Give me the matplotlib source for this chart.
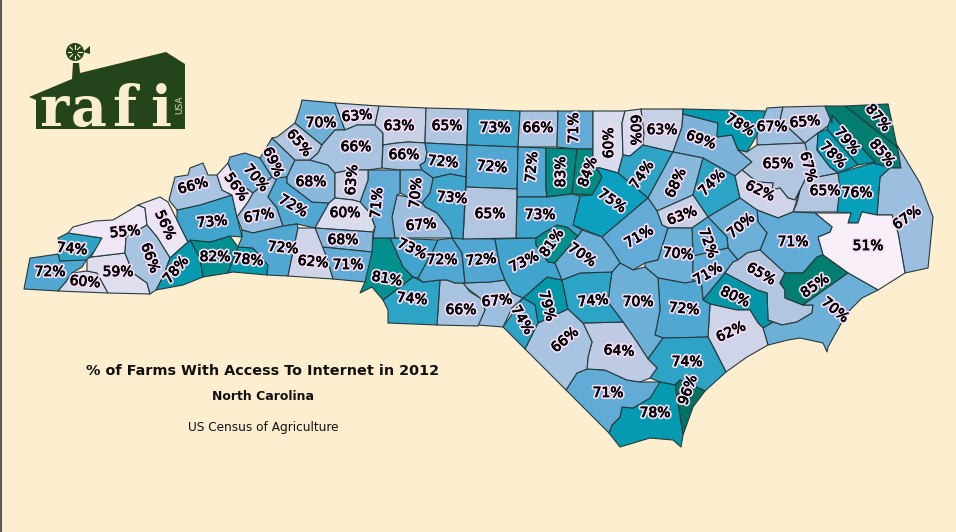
import matplotlib
matplotlib.use("Agg")
import matplotlib.pyplot as plt
import matplotlib.patheffects as pe
from matplotlib.patches import Polygon, Circle

# county outlines, in picture pixels
outlines = {
    "Cherokee": [(24,289),(30,258),(38,257),(58,254),(60,261),(87,259),(82,267),(72,273),(65,283),(58,291)],
    "Graham": [(58,238),(68,233),(102,238),(98,247),(91,255),(87,260),(60,261),(58,254),(60,245)],
    "Clay": [(58,291),(65,283),(72,273),(87,271),(97,273),(108,293)],
    "Macon": [(87,271),(87,259),(91,257),(125,253),(133,273),(147,283),(150,294),(108,293),(97,273)],
    "Swain": [(68,233),(73,227),(95,221),(113,220),(130,210),(138,205),(145,208),(147,225),(126,237),(125,253),(91,257),(102,238)],
    "Haywood": [(138,205),(160,197),(168,202),(177,220),(188,242),(170,258),(157,237),(147,225),(145,208)],
    "Jackson": [(126,237),(147,225),(157,237),(170,258),(163,277),(156,290),(150,294),(147,283),(133,273),(125,253)],
    "Transylvania": [(170,258),(188,242),(190,240),(200,258),(203,277),(183,285),(156,290),(163,277)],
    "Henderson": [(190,240),(210,242),(230,236),(238,247),(228,273),(203,277),(200,258)],
    "Polk": [(238,247),(253,248),(268,265),(267,275),(233,272),(228,273)],
    "Buncombe": [(177,210),(200,205),(232,195),(237,217),(242,237),(230,236),(210,242),(190,240),(188,242),(177,220)],
    "Madison": [(169,200),(175,177),(188,175),(190,168),(203,163),(208,175),(217,175),(222,190),(232,195),(200,205),(177,210)],
    "Yancey": [(217,175),(228,163),(235,180),(253,193),(248,202),(237,217),(232,195),(222,190)],
    "Mitchell": [(228,163),(230,157),(245,153),(260,158),(272,177),(253,193),(235,180)],
    "Avery": [(260,158),(272,138),(295,160),(287,177),(277,180),(272,177)],
    "McDowell": [(237,217),(248,202),(253,193),(272,177),(277,180),(268,197),(277,208),(283,226),(253,233),(242,230)],
    "Burke": [(268,197),(277,178),(287,177),(287,183),(312,202),(329,203),(315,228),(297,224),(283,226),(277,208)],
    "Rutherford": [(242,237),(242,230),(253,233),(283,226),(297,224),(298,228),(288,276),(267,275),(268,265),(253,248),(238,247)],
    "Caldwell": [(287,177),(295,160),(310,160),(328,165),(335,173),(335,198),(329,203),(312,202),(287,183)],
    "Watauga": [(272,138),(277,137),(295,123),(322,145),(318,153),(310,160),(295,160)],
    "Ashe": [(302,100),(335,103),(345,130),(335,130),(322,145),(295,123),(300,108)],
    "Alleghany": [(335,103),(379,106),(375,125),(357,125),(345,130)],
    "Wilkes": [(322,145),(335,130),(345,130),(357,125),(375,125),(383,133),(382,168),(368,170),(350,170),(335,173),(328,165),(310,160),(318,153)],
    "Surry": [(379,106),(426,108),(425,143),(408,142),(397,143),(383,145),(383,133),(375,125)],
    "Stokes": [(426,108),(468,109),(467,145),(425,143)],
    "Rockingham": [(468,109),(520,111),(518,147),(467,145)],
    "Caswell": [(520,111),(558,111),(557,147),(518,147)],
    "Person": [(558,111),(593,111),(593,149),(577,149),(557,147)],
    "Yadkin": [(383,145),(397,143),(408,142),(425,143),(427,153),(425,162),(420,165),(422,170),(400,170),(382,168)],
    "Forsyth": [(425,143),(467,145),(466,177),(450,174),(433,178),(422,170),(420,165),(425,162),(427,153)],
    "Guilford": [(467,145),(518,147),(517,189),(466,187)],
    "Alamance": [(518,147),(546,148),(546,188),(547,197),(517,197)],
    "Orange": [(546,148),(577,149),(572,194),(547,197),(546,188)],
    "Durham": [(577,149),(593,149),(593,168),(598,170),(602,177),(598,185),(592,195),(572,194)],
    "Granville": [(593,111),(625,111),(622,123),(623,155),(618,173),(600,168),(593,168)],
    "Vance": [(625,111),(641,109),(644,133),(643,145),(630,156),(623,155),(622,123)],
    "Warren": [(641,109),(683,109),(682,127),(673,152),(643,145),(644,133)],
    "Franklin": [(643,145),(673,152),(648,198),(618,173),(623,155),(630,156)],
    "Wake": [(593,168),(600,168),(618,173),(648,198),(602,237),(573,225),(580,196),(592,195),(598,185),(602,177),(598,170)],
    "Halifax": [(683,114),(718,123),(717,137),(732,135),(738,150),(752,162),(735,176),(703,158),(673,152),(682,127)],
    "Northampton": [(683,109),(767,111),(757,135),(747,152),(738,150),(732,135),(717,137),(718,123),(683,114)],
    "Hertford": [(767,108),(783,107),(780,120),(805,143),(757,145),(757,135)],
    "Gates": [(783,107),(825,106),(832,123),(818,133),(805,143),(780,120)],
    "Nash": [(673,152),(703,158),(693,195),(657,211),(648,198)],
    "Edgecombe": [(703,158),(735,176),(740,198),(708,217),(693,195)],
    "Bertie": [(747,152),(757,145),(805,143),(813,175),(805,180),(800,190),(795,200),(788,198),(780,188),(772,190),(773,183),(757,182),(742,170),(752,162),(738,150)],
    "Chowan": [(805,143),(818,133),(817,150),(830,167),(838,173),(818,177),(805,180),(813,175)],
    "Pasquotank": [(818,133),(827,129),(858,165),(838,173),(830,167),(817,150)],
    "Camden": [(827,129),(832,115),(862,148),(875,162),(858,165)],
    "Currituck": [(845,106),(888,104),(893,127),(897,147)],
    "Perquimans": [(825,106),(845,106),(897,147),(901,168),(890,168),(873,163),(875,162),(862,148),(832,115),(832,123)],
    "Dare": [(897,145),(920,183),(933,217),(928,268),(905,273),(898,233),(892,215),(877,215),(880,177),(890,168),(901,168)],
    "Tyrrell": [(838,173),(873,163),(890,168),(880,177),(877,215),(862,212),(858,223),(848,223),(851,213),(837,212)],
    "Washington": [(818,177),(838,173),(840,188),(837,212),(793,212),(797,203),(800,190),(805,180)],
    "Martin": [(742,170),(757,182),(773,183),(772,190),(780,188),(788,198),(795,200),(800,190),(793,212),(778,218),(757,210),(740,198),(735,176)],
    "Hyde": [(815,213),(851,213),(848,223),(858,223),(862,212),(877,215),(892,215),(898,233),(905,273),(878,290),(848,273),(823,255),(818,237),(830,232),(832,227)],
    "Beaufort": [(757,210),(778,218),(793,212),(815,213),(832,227),(830,232),(818,237),(823,255),(817,257),(803,273),(785,273),(760,250),(767,233),(758,222)],
    "Pitt": [(708,217),(740,198),(757,210),(758,222),(767,233),(760,250),(747,253),(738,260),(728,248),(727,237)],
    "Wilson": [(657,211),(693,195),(708,217),(692,228),(668,228),(662,225)],
    "Greene": [(692,228),(708,217),(727,237),(728,248),(693,256)],
    "Johnston": [(648,198),(657,211),(662,225),(668,228),(658,260),(645,263),(633,270),(620,263),(612,250),(602,237)],
    "Wayne": [(668,228),(692,228),(693,256),(693,282),(685,283),(658,278),(645,267),(645,263),(658,260)],
    "Lenoir": [(693,256),(728,248),(738,260),(733,262),(725,273),(703,300),(701,280),(693,282)],
    "Craven": [(738,260),(747,253),(760,250),(785,273),(780,283),(785,290),(785,298),(803,305),(813,305),(812,313),(797,322),(782,325),(768,320),(767,293),(757,290),(725,273),(733,262)],
    "Pamlico": [(785,273),(803,273),(817,257),(823,255),(848,273),(803,305),(785,298),(785,290),(780,283)],
    "Carteret": [(848,273),(878,290),(862,298),(847,313),(828,347),(827,352),(823,343),(800,338),(788,340),(768,345),(763,328),(773,322),(782,325),(797,322),(812,313),(813,305),(803,305)],
    "Jones": [(725,273),(757,290),(767,293),(768,320),(773,322),(763,328),(758,323),(750,310),(737,310),(710,304),(703,300)],
    "Onslow": [(710,304),(737,310),(750,310),(758,323),(763,328),(768,345),(747,357),(726,372),(715,350),(708,337)],
    "Duplin": [(658,278),(685,283),(701,280),(703,300),(710,304),(708,337),(677,338),(663,338),(655,335),(660,310)],
    "Sampson": [(620,263),(633,270),(645,267),(658,278),(660,310),(655,335),(663,338),(648,359),(637,342),(623,322),(608,302),(610,285),(612,272)],
    "Pender": [(663,338),(708,337),(726,372),(705,391),(688,383),(680,380),(675,385),(660,382),(650,378),(657,368),(648,359)],
    "New Hanover": [(675,385),(680,380),(688,383),(705,391),(693,407),(683,435)],
    "Brunswick": [(660,382),(675,385),(683,435),(681,447),(673,440),(650,438),(620,447),(609,433),(612,425),(620,417),(622,407),(633,408),(650,398),(657,383)],
    "Columbus": [(566,390),(577,373),(587,369),(605,370),(627,380),(640,382),(660,382),(650,398),(633,408),(622,407),(620,417),(612,425),(609,433)],
    "Bladen": [(583,323),(623,322),(637,342),(648,359),(657,368),(650,378),(640,382),(627,380),(605,370),(587,369),(588,357),(592,342)],
    "Robeson": [(568,309),(583,323),(592,342),(588,357),(587,369),(577,373),(566,390),(525,349),(538,323)],
    "Scotland": [(523,298),(547,277),(562,280),(568,309),(538,323),(535,305)],
    "Hoke": [(562,280),(580,273),(612,272),(610,285),(608,302),(623,322),(583,323),(568,309)],
    "Richmond": [(503,327),(523,298),(535,305),(538,323),(525,349)],
    "Anson": [(462,283),(490,282),(505,280),(512,293),(523,298),(512,308),(503,327),(478,325),(485,310),(480,298),(467,288)],
    "Union": [(440,280),(447,280),(455,283),(463,283),(470,292),(480,298),(485,310),(478,326),(437,325)],
    "Mecklenburg": [(413,277),(423,282),(440,280),(437,325),(388,323),(388,310),(383,300)],
    "Cabarrus": [(390,238),(438,240),(432,253),(418,278),(413,277),(403,267)],
    "Rowan South": [(373,238),(390,238),(403,267),(413,277),(383,300),(372,287),(360,293),(365,282),(370,253)],
    "Stanly": [(438,240),(452,238),(462,253),(465,283),(455,283),(447,280),(440,280),(423,282),(418,278),(432,253)],
    "Montgomery": [(452,238),(495,239),(500,267),(505,280),(490,282),(465,283),(462,253)],
    "Moore": [(495,239),(536,238),(536,245),(548,262),(555,263),(562,280),(547,277),(523,298),(512,293),(505,280),(500,267)],
    "Lee": [(536,238),(543,233),(557,225),(567,227),(578,236),(555,263),(548,262),(536,245)],
    "Harnett": [(578,236),(582,230),(602,237),(612,250),(620,263),(612,272),(580,273),(562,280),(555,263)],
    "Chatham": [(517,197),(547,197),(572,194),(580,196),(573,225),(582,230),(578,236),(567,227),(557,225),(543,233),(536,238),(516,238)],
    "Randolph": [(466,187),(517,189),(516,238),(463,239)],
    "Davidson": [(433,178),(450,174),(466,177),(463,239),(452,238),(450,230),(437,213),(425,207),(422,203),(430,193)],
    "Davie": [(400,170),(422,170),(433,178),(430,193),(422,203),(408,197),(400,193)],
    "Rowan": [(397,195),(408,197),(422,203),(425,207),(437,213),(450,230),(452,238),(395,238),(392,217)],
    "Iredell": [(368,170),(400,170),(400,193),(397,195),(392,217),(395,238),(373,238),(375,227),(370,213),(360,202),(368,180)],
    "Alexander": [(335,173),(350,170),(368,170),(368,180),(360,202),(353,200),(335,198)],
    "Catawba": [(335,198),(353,200),(360,202),(370,213),(375,227),(373,232),(315,228),(329,203)],
    "Lincoln": [(315,228),(373,232),(372,252),(322,247)],
    "Gaston": [(322,247),(372,252),(365,282),(333,279),(325,253)],
    "Cleveland": [(298,228),(315,228),(325,253),(333,279),(288,276)],
}

counties = list(outlines)
farm_pct = [72,74,60,59,55,56,66,78,82,78,73,66,56,70,69,67,72,72,68,65,70,63,66,63,65,73,66,71,66,72,72,72,83,84,60,60,63,74,75,69,78,67,65,68,74,65,67,78,79,87,85,67,76,65,62,51,71,70,63,72,71,70,71,65,85,70,80,62,72,70,74,96,78,71,64,66,79,74,74,67,66,74,73,81,72,72,73,81,70,73,65,73,70,67,71,63,60,68,71,62]

label_x = [50,72,85,118,125,165,150,176,215,248,212,193,236,256,273,259,293,283,311,299,321,357,356,399,447,495,538,574,404,443,492,532,561,588,609,635,662,642,612,701,740,772,805,676,712,778,808,833,847,878,882,907,857,825,760,868,793,741,682,708,639,678,708,761,815,835,735,731,684,638,687,688,655,608,619,565,547,593,522,497,461,412,412,387,442,481,524,552,582,540,490,452,416,421,377,352,345,343,348,313]
label_y = [272,249,282,272,232,225,258,270,257,260,222,186,187,178,162,216,206,248,182,143,123,116,147,126,126,128,128,128,155,162,167,167,172,172,143,130,130,175,201,140,125,127,122,183,183,164,167,155,141,118,153,218,193,191,191,246,242,226,216,243,237,254,274,274,286,310,297,332,309,302,362,390,413,393,351,340,306,301,320,301,310,299,249,279,260,260,262,243,255,215,214,198,193,225,203,180,213,240,265,262]
label_rot = [0,-5,-5,0,5,-65,-70,50,0,-5,5,15,-55,-50,-65,10,-30,-5,0,-50,0,5,0,0,0,0,0,90,0,-5,-5,85,90,70,90,-90,0,55,-35,-20,-30,0,5,65,45,0,-75,-45,-50,-50,-50,35,0,0,-25,0,0,40,20,-70,30,-5,30,-30,35,-40,-25,25,-5,0,0,70,0,0,-3,40,-75,5,-60,5,0,-5,-25,-10,0,5,25,55,-35,0,0,-5,85,5,85,85,0,0,0,-5]

# colour for each percentage
pct_colors = {51:"#f8eff8",55:"#efe7f5",56:"#ece5f3",59:"#dedeee",60:"#d8dcec",62:"#d0d4e9",63:"#c8d0e6",64:"#bfcae4",65:"#b3c6e0",66:"#a8c4e0",67:"#9dbfdf",68:"#88b8db",69:"#7db3d9",70:"#6cb0d8",71:"#62abd6",72:"#50a8d2",73:"#40a5cc",74:"#2da3c5",75:"#0ba0c0",76:"#05a0ba",78:"#049aaf",79:"#0397a8",80:"#0296a6",81:"#02908f",82:"#028f90",83:"#028b85",84:"#028a80",85:"#027d70",87:"#01776a",96:"#017364"}

title = "% of Farms With Access To Internet in 2012"
subtitle = "North Carolina"
source = "US Census of Agriculture"

bg = "#feeed0"
green = "#24451b"

fig = plt.figure(figsize=(9.56, 5.32), dpi=100, facecolor=bg)
ax = fig.add_axes([0, 0, 1, 1])
ax.set_xlim(0, 956)
ax.set_ylim(532, 0)
ax.axis("off")

# thin dark strip at the left of the screenshot
ax.axvline(0.5, color="#5a5a5a", lw=1.5)

for name, pct in zip(counties, farm_pct):
    ax.add_patch(Polygon(outlines[name], closed=True, facecolor=pct_colors[pct], edgecolor="#26393c", lw=0.8, joinstyle="round"))

# pale halo, then a hair of black stroke so the digits read as heavy as the original
halo = [pe.Stroke(linewidth=3, foreground="#f3dcf3"), pe.Stroke(linewidth=0.5, foreground="black"), pe.Normal()]
for pct, x, y, rot in zip(farm_pct, label_x, label_y, label_rot):
    ax.text(x, y, f"{pct}%", fontsize=10, color="black", ha="center", va="center", rotation=rot,
            rotation_mode="anchor", path_effects=halo)

ax.text(262.5, 371, title, fontsize=10.4, fontweight="bold", ha="center", va="center", color="#111111")
ax.text(263, 397, subtitle, fontsize=9, fontweight="bold", ha="center", va="center", color="#111111")
ax.text(263, 427, source, fontsize=8.7, ha="center", va="center", color="#111111")

# logo: barn roof with windmill, then the letters
barn = [(29,97),(72,79),(73,63),(79,63),(80,73),(166,52),(185,64),(185,129),(36,129),(36,100)]
ax.add_patch(Polygon(barn, closed=True, facecolor=green, edgecolor="none"))
ax.add_patch(Circle((75,52), 9, facecolor=green, edgecolor="none"))
for dx, dy in [(7,0),(5,5),(0,7),(-5,5),(-7,0),(-5,-5),(0,-7),(5,-5)]:
    ax.plot([75+dx*0.5,75+dx], [52+dy*0.5,52+dy], color=bg, lw=0.8)
ax.add_patch(Polygon([(83,52),(90,46),(90,54)], closed=True, facecolor=green, edgecolor="none"))

for letter, x in zip("rafi", [54, 89, 124, 161]):
    ax.text(x, 126, letter, fontsize=40, family="DejaVu Serif", fontweight="bold", color=bg, ha="center", va="baseline")
ax.text(180, 105, "USA", fontsize=6.5, color="#d8d8b8", rotation=90, ha="center", va="center")

fig.savefig("out.png", dpi=100, facecolor=bg)
